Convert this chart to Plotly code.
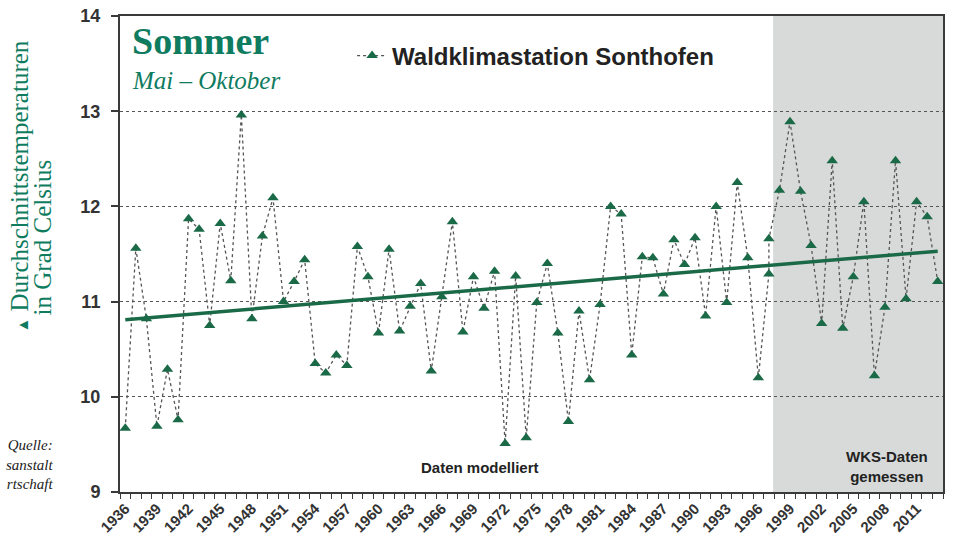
import plotly.graph_objects as go

# ---- data ----
modelled_years = list(range(1936, 1998))
modelled_temps = [
    9.67, 11.56, 10.82, 9.69, 10.29, 9.76, 11.87, 11.76, 10.75, 11.82,
    11.22, 12.96, 10.82, 11.69, 12.09, 11.00, 11.21, 11.44, 10.35, 10.25,
    10.44, 10.33, 11.58, 11.26, 10.67, 11.55, 10.69, 10.95, 11.19, 10.27,
    11.05, 11.84, 10.68, 11.26, 10.93, 11.32, 9.51, 11.27, 9.57, 10.99,
    11.40, 10.67, 9.74, 10.90, 10.18, 10.97, 12.00, 11.92, 10.44, 11.47,
    11.46, 11.08, 11.65, 11.39, 11.67, 10.85, 12.00, 10.99, 12.25, 11.46,
    10.20, 11.29,
]
measured_years = list(range(1997, 2014))
measured_temps = [
    11.66, 12.17, 12.89, 12.16, 11.59, 10.77, 12.48, 10.72, 11.26, 12.05,
    10.22, 10.94, 12.48, 11.03, 12.05, 11.89, 11.21,
]
trend_years = [1936, 2013]
trend_temps = [10.81, 11.53]
tick_years = list(range(1936, 2012, 3))
y_ticks = [9, 10, 11, 12, 13, 14]
shade_start = 1997.4
x_lo, x_hi = 1935.5, 2013.5

GREEN = "#1b6a47"
TEAL = "#0f7c60"
DARK = "#333333"

all_years = modelled_years + measured_years
all_temps = modelled_temps + measured_temps

fig = go.Figure()

fig.add_trace(go.Scatter(
    x=all_years, y=all_temps, mode="lines+markers",
    name="Waldklimastation Sonthofen",
    line=dict(color="#555555", width=1.3, dash="dot"),
    marker=dict(symbol="triangle-up", size=10, color=GREEN),
))
fig.add_trace(go.Scatter(
    x=trend_years, y=trend_temps, mode="lines", showlegend=False,
    line=dict(color=GREEN, width=3.5), hoverinfo="skip",
))

fig.add_shape(type="rect", xref="x", yref="paper", x0=shade_start, x1=x_hi,
              y0=0, y1=1, fillcolor="#d8dada", line_width=0, layer="between")

minor_ticks = [y - 0.5 for y in range(1936, 2014)] + [x_hi]

fig.update_xaxes(
    range=[x_lo, x_hi], tickmode="array", tickvals=tick_years,
    ticktext=[str(y) for y in tick_years], tickangle=-45,
    ticks="", showgrid=False, zeroline=False, automargin=False,
    showline=True, linecolor="#3a3a3a", linewidth=2, mirror=True,
    tickfont=dict(family="Liberation Sans, Arial", size=15, color=DARK, weight="bold"),
    minor=dict(tickmode="array", tickvals=minor_ticks, ticks="outside", ticklen=5,
               tickwidth=1.3, tickcolor="#3a3a3a", showgrid=False),
)
fig.update_yaxes(
    range=[9, 14], tickmode="array", tickvals=y_ticks,
    ticks="outside", ticklen=7, tickwidth=1.5, tickcolor="#3a3a3a",
    showgrid=True, gridcolor="#555555", griddash="dot", gridwidth=1,
    zeroline=False, showline=True, linecolor="#3a3a3a", linewidth=2, mirror=True,
    automargin=False,
    tickfont=dict(family="Liberation Sans, Arial", size=18, color=DARK, weight="bold"),
    ticklabelstandoff=7,
)

annotations = [
    dict(text="<b>Sommer</b>", x=0.012, y=0.995, xanchor="left", yanchor="top",
         font=dict(family="Liberation Serif, serif", size=38, color=TEAL)),
    dict(text="<i>Mai – Oktober</i>", x=0.012, y=0.897, xanchor="left", yanchor="top",
         font=dict(family="Liberation Serif, serif", size=25, color=TEAL)),
    dict(text="Daten modelliert", x=0.438, y=0.0525, xanchor="center", yanchor="middle",
         font=dict(family="Liberation Sans, Arial", size=15, color="#222222", weight="bold")),
    dict(text="WKS-Daten<br>gemessen", x=0.932, y=0.054, xanchor="center", yanchor="middle",
         align="center",
         font=dict(family="Liberation Sans, Arial", size=15, color="#222222", weight="bold")),
    dict(text="<span style='font-size:15px'>▲</span> Durchschnittstemperaturen",
         textangle=-90, x=-0.122, y=0.33, xanchor="center", yanchor="bottom",
         font=dict(family="Liberation Serif, serif", size=25, color=TEAL)),
    dict(text="in Grad Celsius",
         textangle=-90, x=-0.094, y=0.366, xanchor="center", yanchor="bottom",
         font=dict(family="Liberation Serif, serif", size=25, color=TEAL)),
    dict(text="<i>Quelle:<br>sanstalt<br>rtschaft</i>",
         x=-0.0775, y=0.057, xanchor="right", yanchor="middle", align="right",
         font=dict(family="Liberation Serif, serif", size=15, color="#222222")),
]
for a in annotations:
    a.setdefault("xref", "paper")
    a.setdefault("yref", "paper")
    a["showarrow"] = False
fig.update_layout(annotations=annotations)

fig.update_layout(
    width=954, height=544,
    margin=dict(l=120, r=11, t=16, b=52, autoexpand=False),
    paper_bgcolor="white", plot_bgcolor="white",
    showlegend=True,
    legend=dict(x=0.282, y=0.916, xanchor="left", yanchor="middle",
                bgcolor="rgba(0,0,0,0)",
                font=dict(family="Liberation Sans, Arial", size=24, color="#222222",
                          weight="bold")),
)

fig.write_html("out.html", config={"displayModeBar": False},
               post_script="document.body.style.margin='0';document.body.style.overflow='hidden';")
